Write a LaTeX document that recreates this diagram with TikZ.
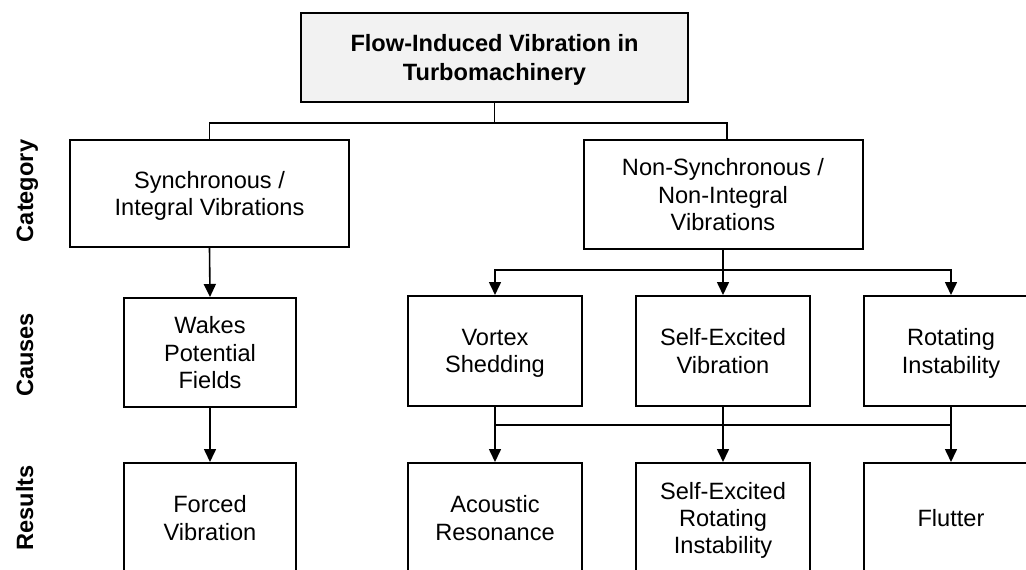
\documentclass[tikz,border=0pt]{standalone}
\usepackage{fontspec}
\setmainfont{Liberation Sans}
\usetikzlibrary{arrows.meta}
\definecolor{titlegray}{RGB}{242,242,242}
\tikzset{
  box/.style={draw=black, line width=2pt, align=center, inner sep=0pt,
    minimum width=174pt, minimum height=110pt, text depth=0pt,
    font=\fontsize{23.6}{27.4}\selectfont},
  wide/.style={box, minimum width=279pt, minimum height=108pt},
  conn/.style={draw=black, line width=1.6pt},
  arr/.style={conn, -{Triangle[width=12pt,length=13pt]}},
  rowlabel/.style={rotate=90, anchor=base, inner sep=0pt,
    font=\fontsize{23.6}{27.4}\selectfont\bfseries}
}
\begin{document}
\begin{tikzpicture}[x=1pt, y=-1pt]
\useasboundingbox (0,0) rectangle (1026,570);
\clip (0,0) rectangle (1026,570);
% row labels
\node[rowlabel] (lcat) at (33,191) {Category};
\node[rowlabel] (lcau) at (33,355) {Causes};
\node[rowlabel] (lres) at (33,508) {Results};
% title
\node[box, fill=titlegray, minimum width=387pt, minimum height=89pt,
      font=\fontsize{23.6}{28.6}\selectfont\bfseries] (top) at (494.5,57.5)
      {Flow-Induced Vibration in\\Turbomachinery};
% category
\node[wide, minimum height=107pt] (synch) at (209.5,193.5) {Synchronous /\\Integral Vibrations};
\node[wide, minimum height=109pt] (nonsynch) at (723,194.5) {Non-Synchronous /\\Non-Integral\\Vibrations};
% causes
\node[box, minimum width=172pt, minimum height=109pt] (wakes) at (210,352.5) {Wakes\\Potential\\Fields};
\node[box] (vortex) at (495,351) {Vortex\\Shedding};
\node[box] (selfexc) at (723,351) {Self-Excited\\Vibration};
\node[box] (rotating) at (951,351) {Rotating\\Instability};
% results
\node[box, minimum width=172pt] (forced) at (210,518) {Forced\\Vibration};
\node[box] (acoustic) at (495,518) {Acoustic\\Resonance};
\node[box] (serot) at (723,518) {Self-Excited\\Rotating\\Instability};
\node[box] (flutter) at (951,518) {Flutter};
% connectors level 1
\coordinate (j1) at (494.5,123);
\coordinate (nsin) at (727,140);
\draw[conn] (top.south) -- (j1);
\draw[conn] (synch.north) |- (j1) -| (nsin);
% synchronous branch
\draw[arr] (synch.south) -- (wakes.north);
\draw[arr] (wakes.south) -- (forced.north);
% non-synchronous branch
\coordinate (j2) at (723,270);
\draw[arr] (nonsynch.south) -- (selfexc.north);
\draw[arr] (j2) -| (vortex.north);
\draw[arr] (j2) -| (rotating.north);
% causes to results
\coordinate (j3) at (723,425);
\draw[conn] (vortex.south |- j3) -- (rotating.south |- j3);
\draw[arr] (vortex.south) -- (acoustic.north);
\draw[arr] (selfexc.south) -- (serot.north);
\draw[arr] (rotating.south) -- (flutter.north);
\end{tikzpicture}
\end{document}
